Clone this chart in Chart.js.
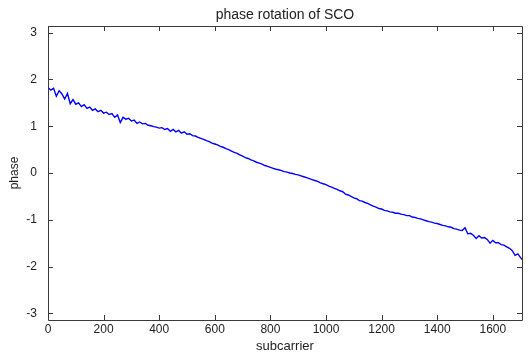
<!DOCTYPE html>
<html>
<head>
<meta charset="utf-8">
<script src="https://cdn.jsdelivr.net/npm/chart.js@4.4.0/dist/chart.umd.min.js"></script>
<style>
    html, body { margin: 0; padding: 0; background: #fff; }
    #wrap { width: 531px; height: 354px; }
</style>
</head>
<body>
<div id="wrap"><canvas id="scoChart" width="531" height="354"></canvas></div>
<script>
// subcarrier index (every 10th)
const subcarriers = [
    0, 10, 20, 30, 40, 50, 60, 70, 80, 90,
    100, 110, 120, 130, 140, 150, 160, 170, 180, 190,
    200, 210, 220, 230, 240, 250, 260, 270, 280, 290,
    300, 310, 320, 330, 340, 350, 360, 370, 380, 390,
    400, 410, 420, 430, 440, 450, 460, 470, 480, 490,
    500, 510, 520, 530, 540, 550, 560, 570, 580, 590,
    600, 610, 620, 630, 640, 650, 660, 670, 680, 690,
    700, 710, 720, 730, 740, 750, 760, 770, 780, 790,
    800, 810, 820, 830, 840, 850, 860, 870, 880, 890,
    900, 910, 920, 930, 940, 950, 960, 970, 980, 990,
    1000, 1010, 1020, 1030, 1040, 1050, 1060, 1070, 1080, 1090,
    1100, 1110, 1120, 1130, 1140, 1150, 1160, 1170, 1180, 1190,
    1200, 1210, 1220, 1230, 1240, 1250, 1260, 1270, 1280, 1290,
    1300, 1310, 1320, 1330, 1340, 1350, 1360, 1370, 1380, 1390,
    1400, 1410, 1420, 1430, 1440, 1450, 1460, 1470, 1480, 1490,
    1500, 1510, 1520, 1530, 1540, 1550, 1560, 1570, 1580, 1590,
    1600, 1610, 1620, 1630, 1640, 1650, 1660, 1670, 1680, 1690,
    1700, 1705
];

// measured phase (rad)
const phase = [
    1.83, 1.77, 1.81, 1.64, 1.76, 1.69, 1.58, 1.70, 1.48, 1.57,
    1.47, 1.50, 1.42, 1.46, 1.38, 1.41, 1.34, 1.37, 1.31, 1.34,
    1.28, 1.30, 1.25, 1.27, 1.19, 1.24, 1.08, 1.19, 1.15, 1.17,
    1.11, 1.13, 1.06, 1.09, 1.05, 1.06, 1.02, 1.01, 0.99, 0.98,
    0.96, 0.97, 0.93, 0.95, 0.89, 0.93, 0.88, 0.91, 0.85, 0.88,
    0.83, 0.84, 0.80, 0.79, 0.76, 0.74, 0.72, 0.69, 0.67, 0.64,
    0.62, 0.60, 0.57, 0.55, 0.52, 0.50, 0.47, 0.44, 0.42, 0.39,
    0.36, 0.33, 0.31, 0.28, 0.26, 0.23, 0.21, 0.19, 0.16, 0.14,
    0.12, 0.10, 0.08, 0.07, 0.05, 0.03, 0.02, 0.00, -0.01, -0.03,
    -0.04, -0.06, -0.08, -0.10, -0.12, -0.14, -0.16, -0.18, -0.21, -0.23,
    -0.25, -0.28, -0.30, -0.33, -0.35, -0.38, -0.40, -0.45, -0.47, -0.50,
    -0.53, -0.55, -0.59, -0.60, -0.63, -0.65, -0.68, -0.71, -0.73, -0.76,
    -0.77, -0.80, -0.81, -0.83, -0.84, -0.86, -0.86, -0.88, -0.89, -0.91,
    -0.91, -0.94, -0.95, -0.97, -0.98, -1.00, -1.02, -1.04, -1.05, -1.07,
    -1.08, -1.10, -1.12, -1.13, -1.15, -1.16, -1.19, -1.20, -1.22, -1.23,
    -1.17, -1.30, -1.29, -1.33, -1.40, -1.34, -1.39, -1.38, -1.42, -1.50,
    -1.44, -1.49, -1.49, -1.53, -1.54, -1.58, -1.61, -1.66, -1.76, -1.73,
    -1.81, -1.85
];

const titleText = 'phase rotation of SCO';
const xLabel = 'subcarrier';
const yLabel = 'phase';

const axisColor = '#3a3a3a';
const textColor = '#222';
const fontFamily = '"Liberation Sans", Arial, sans-serif';

// matlab style frame with inward ticks + title
const matlabFrame = {
    id: 'matlabFrame',
    afterDraw(chart) {
        const { ctx, chartArea, scales } = chart;
        const { left, right, top, bottom } = chartArea;
        const tick = 5;
        ctx.save();
        ctx.strokeStyle = axisColor;
        ctx.lineWidth = 1;
        ctx.beginPath();
        ctx.rect(Math.round(left) + 0.5, Math.round(top) + 0.5, Math.round(right - left), Math.round(bottom - top));
        scales.x.ticks.forEach(t => {
            const px = Math.round(scales.x.getPixelForValue(t.value)) + 0.5;
            ctx.moveTo(px, bottom); ctx.lineTo(px, bottom - tick);
            ctx.moveTo(px, top); ctx.lineTo(px, top + tick);
        });
        scales.y.ticks.forEach(t => {
            const py = Math.round(scales.y.getPixelForValue(t.value)) + 0.5;
            ctx.moveTo(left, py); ctx.lineTo(left + tick, py);
            ctx.moveTo(right, py); ctx.lineTo(right - tick, py);
        });
        ctx.stroke();

        ctx.fillStyle = textColor;
        ctx.font = '14px ' + fontFamily;
        ctx.textAlign = 'center';
        ctx.textBaseline = 'middle';
        ctx.fillText(titleText, (left + right) / 2, 15);
        ctx.restore();
    }
};

new Chart(document.getElementById('scoChart').getContext('2d'), {
    type: 'line',
    data: {
        datasets: [{
            data: subcarriers.map((x, i) => ({ x: x, y: phase[i] })),
            borderColor: '#0000ff',
            borderWidth: 1.4,
            pointRadius: 0,
            tension: 0,
            fill: false
        }]
    },
    options: {
        responsive: false,
        animation: false,
        layout: { padding: { top: 26, right: 9, bottom: 0, left: 0 } },
        plugins: {
            legend: { display: false },
            tooltip: { enabled: false },
            title: { display: false }
        },
        scales: {
            x: {
                type: 'linear',
                min: 0,
                max: 1705,
                afterFit: s => { s.height = 34; },
                grid: { display: false, drawTicks: false },
                border: { display: false },
                ticks: {
                    stepSize: 200,
                    includeBounds: false,
                    padding: 2,
                    color: textColor,
                    font: { family: fontFamily, size: 12 },
                    maxRotation: 0,
                    callback: v => String(v)
                },
                title: {
                    display: true,
                    text: xLabel,
                    color: textColor,
                    font: { family: fontFamily, size: 13 },
                    padding: { top: 0, bottom: 0 }
                }
            },
            y: {
                type: 'linear',
                min: -Math.PI,
                max: Math.PI,
                afterFit: s => { s.width = 48; },
                grid: { display: false, drawTicks: false },
                border: { display: false },
                ticks: {
                    stepSize: 1,
                    includeBounds: false,
                    padding: 11,
                    color: textColor,
                    font: { family: fontFamily, size: 12 },
                    callback: v => String(v)
                },
                title: {
                    display: true,
                    text: yLabel,
                    color: textColor,
                    font: { family: fontFamily, size: 12 },
                    padding: { top: 7, bottom: 0 }
                }
            }
        }
    },
    plugins: [matlabFrame]
});
</script>
</body>
</html>
